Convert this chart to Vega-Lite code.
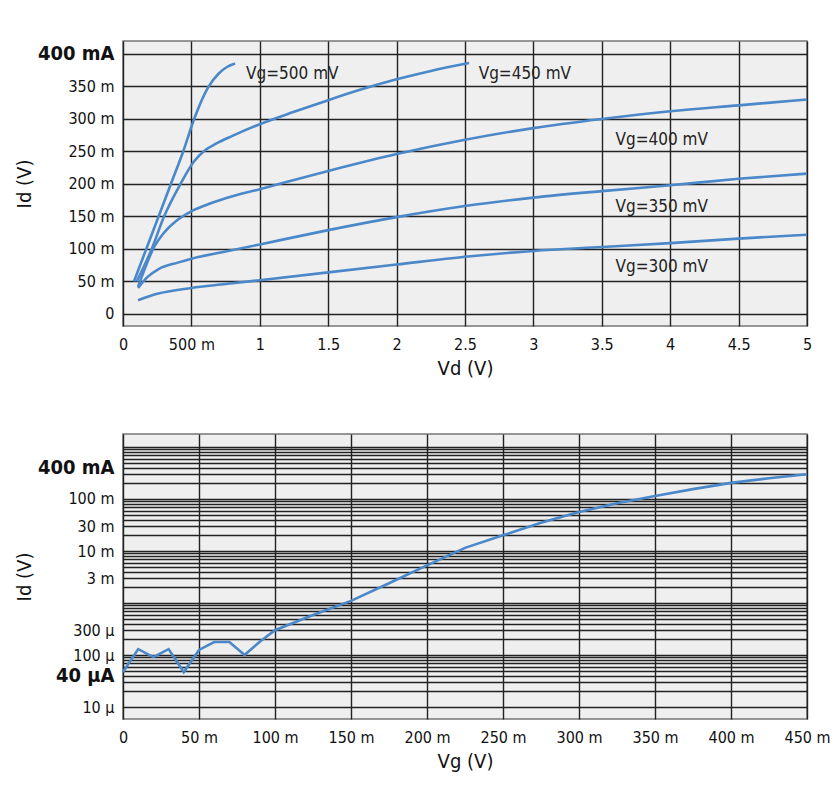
{
  "$schema": "https://vega.github.io/schema/vega-lite/v6.json",
  "background": "white",
  "padding": {"left": 13, "top": 40, "right": 20, "bottom": 10},
  "bounds": "flush",
  "spacing": 108,
  "config": {
    "font": "DejaVu Sans Condensed, Liberation Sans Narrow, Liberation Sans",
    "view": {"fill": "#efefef", "stroke": "#777", "strokeWidth": 1.5},
    "axis": {
      "grid": true, "gridColor": "#222", "gridWidth": 1.4, "gridOpacity": 1,
      "ticks": false, "domain": false,
      "labelFont": "DejaVu Sans Condensed, Liberation Sans Narrow, Liberation Sans",
      "labelFontSize": 16, "labelColor": "#111",
      "titleFont": "DejaVu Sans Condensed, Liberation Sans Narrow, Liberation Sans",
      "titleFontSize": 20, "titleFontWeight": "normal", "titleColor": "#111",
      "labelOverlap": false, "labelFlush": false
    }
  },
  "datasets": {
    "curves": [
      {"Vg": "500 mV", "Vd": 0.08, "Id": 50}, {"Vg": "500 mV", "Vd": 0.17, "Id": 100}, {"Vg": "500 mV", "Vd": 0.26, "Id": 150}, {"Vg": "500 mV", "Vd": 0.35, "Id": 200}, {"Vg": "500 mV", "Vd": 0.44, "Id": 250}, {"Vg": "500 mV", "Vd": 0.52, "Id": 300}, {"Vg": "500 mV", "Vd": 0.62, "Id": 348}, {"Vg": "500 mV", "Vd": 0.7, "Id": 370}, {"Vg": "500 mV", "Vd": 0.76, "Id": 380}, {"Vg": "500 mV", "Vd": 0.8, "Id": 384}, {"Vg": "500 mV", "Vd": 0.82, "Id": 385},
      {"Vg": "450 mV", "Vd": 0.1, "Id": 50}, {"Vg": "450 mV", "Vd": 0.21, "Id": 100}, {"Vg": "450 mV", "Vd": 0.3, "Id": 150}, {"Vg": "450 mV", "Vd": 0.42, "Id": 200}, {"Vg": "450 mV", "Vd": 0.52, "Id": 235}, {"Vg": "450 mV", "Vd": 0.6, "Id": 252}, {"Vg": "450 mV", "Vd": 0.68, "Id": 262}, {"Vg": "450 mV", "Vd": 0.8, "Id": 274}, {"Vg": "450 mV", "Vd": 1.0, "Id": 292}, {"Vg": "450 mV", "Vd": 1.25, "Id": 311}, {"Vg": "450 mV", "Vd": 1.5, "Id": 329}, {"Vg": "450 mV", "Vd": 1.75, "Id": 346}, {"Vg": "450 mV", "Vd": 2.0, "Id": 361}, {"Vg": "450 mV", "Vd": 2.25, "Id": 374}, {"Vg": "450 mV", "Vd": 2.53, "Id": 386},
      {"Vg": "400 mV", "Vd": 0.11, "Id": 42}, {"Vg": "400 mV", "Vd": 0.16, "Id": 70}, {"Vg": "400 mV", "Vd": 0.22, "Id": 100}, {"Vg": "400 mV", "Vd": 0.3, "Id": 125}, {"Vg": "400 mV", "Vd": 0.4, "Id": 145}, {"Vg": "400 mV", "Vd": 0.5, "Id": 158}, {"Vg": "400 mV", "Vd": 0.6, "Id": 167}, {"Vg": "400 mV", "Vd": 0.75, "Id": 178}, {"Vg": "400 mV", "Vd": 1.0, "Id": 192}, {"Vg": "400 mV", "Vd": 1.5, "Id": 220}, {"Vg": "400 mV", "Vd": 2.0, "Id": 246}, {"Vg": "400 mV", "Vd": 2.5, "Id": 268}, {"Vg": "400 mV", "Vd": 3.0, "Id": 286}, {"Vg": "400 mV", "Vd": 3.5, "Id": 300}, {"Vg": "400 mV", "Vd": 4.0, "Id": 312}, {"Vg": "400 mV", "Vd": 4.5, "Id": 321}, {"Vg": "400 mV", "Vd": 5.0, "Id": 330},
      {"Vg": "350 mV", "Vd": 0.11, "Id": 40}, {"Vg": "350 mV", "Vd": 0.18, "Id": 57}, {"Vg": "350 mV", "Vd": 0.26, "Id": 69}, {"Vg": "350 mV", "Vd": 0.4, "Id": 79}, {"Vg": "350 mV", "Vd": 0.5, "Id": 85}, {"Vg": "350 mV", "Vd": 0.75, "Id": 96}, {"Vg": "350 mV", "Vd": 1.0, "Id": 107}, {"Vg": "350 mV", "Vd": 1.5, "Id": 129}, {"Vg": "350 mV", "Vd": 2.0, "Id": 149}, {"Vg": "350 mV", "Vd": 2.5, "Id": 166}, {"Vg": "350 mV", "Vd": 3.0, "Id": 179}, {"Vg": "350 mV", "Vd": 3.5, "Id": 189}, {"Vg": "350 mV", "Vd": 4.0, "Id": 198}, {"Vg": "350 mV", "Vd": 4.5, "Id": 208}, {"Vg": "350 mV", "Vd": 5.0, "Id": 216},
      {"Vg": "300 mV", "Vd": 0.11, "Id": 21}, {"Vg": "300 mV", "Vd": 0.25, "Id": 31}, {"Vg": "300 mV", "Vd": 0.5, "Id": 40}, {"Vg": "300 mV", "Vd": 0.75, "Id": 46}, {"Vg": "300 mV", "Vd": 1.0, "Id": 52}, {"Vg": "300 mV", "Vd": 1.5, "Id": 64}, {"Vg": "300 mV", "Vd": 2.0, "Id": 76}, {"Vg": "300 mV", "Vd": 2.5, "Id": 88}, {"Vg": "300 mV", "Vd": 3.0, "Id": 97}, {"Vg": "300 mV", "Vd": 3.5, "Id": 103}, {"Vg": "300 mV", "Vd": 4.0, "Id": 109}, {"Vg": "300 mV", "Vd": 4.5, "Id": 116}, {"Vg": "300 mV", "Vd": 5.0, "Id": 122}
    ],
    "curveLabels": [
      {"Vd": 0.9, "Id": 369, "label": "Vg=500 mV"},
      {"Vd": 2.6, "Id": 369, "label": "Vg=450 mV"},
      {"Vd": 3.6, "Id": 268, "label": "Vg=400 mV"},
      {"Vd": 3.6, "Id": 165, "label": "Vg=350 mV"},
      {"Vd": 3.6, "Id": 73, "label": "Vg=300 mV"}
    ],
    "transfer": [
      {"Vg": 0.0, "Id": 0.000047}, {"Vg": 0.01, "Id": 0.00013}, {"Vg": 0.02, "Id": 0.000091}, {"Vg": 0.03, "Id": 0.00013}, {"Vg": 0.04, "Id": 0.000047}, {"Vg": 0.05, "Id": 0.000125}, {"Vg": 0.06, "Id": 0.000178}, {"Vg": 0.07, "Id": 0.000178}, {"Vg": 0.08, "Id": 0.0001}, {"Vg": 0.09, "Id": 0.00018}, {"Vg": 0.1, "Id": 0.0003}, {"Vg": 0.125, "Id": 0.00059}, {"Vg": 0.15, "Id": 0.0011}, {"Vg": 0.175, "Id": 0.0024}, {"Vg": 0.2, "Id": 0.0053}, {"Vg": 0.225, "Id": 0.0115}, {"Vg": 0.25, "Id": 0.02}, {"Vg": 0.275, "Id": 0.035}, {"Vg": 0.3, "Id": 0.056}, {"Vg": 0.325, "Id": 0.083}, {"Vg": 0.35, "Id": 0.114}, {"Vg": 0.375, "Id": 0.155}, {"Vg": 0.4, "Id": 0.204}, {"Vg": 0.425, "Id": 0.25}, {"Vg": 0.45, "Id": 0.3}
    ]
  },
  "vconcat": [
    {
      "width": 684,
      "height": 285,
      "encoding": {
        "x": {"field": "Vd", "type": "quantitative",
          "scale": {"domain": [0, 5], "nice": false, "zero": false},
          "axis": {"values": [0, 0.5, 1, 1.5, 2, 2.5, 3, 3.5, 4, 4.5, 5], "labelPadding": 10, "titlePadding": 6, "title": "Vd (V)", "labelOverlap": false, "labelFlush": false,
            "labelExpr": "datum.value == 0.5 ? '500 m' : format(datum.value, '~g')"}},
        "y": {"field": "Id", "type": "quantitative",
          "scale": {"domain": [-18.5, 420], "nice": false, "zero": false},
          "axis": {"values": [0, 50, 100, 150, 200, 250, 300, 350, 400], "labelPadding": 9, "title": "Id (V)", "titleX": -89, "labelOverlap": false, "labelFlush": false,
            "labelExpr": "datum.value == 0 ? '0' : datum.value == 400 ? '400 mA' : datum.value + ' m'",
            "labelFontWeight": {"condition": {"test": "datum.value == 400", "value": "bold"}, "value": "normal"},
            "labelFontSize": {"condition": {"test": "datum.value == 400", "value": 20}, "value": 16}}}
      },
      "layer": [
        {
          "data": {"name": "curves"},
          "mark": {"type": "line", "interpolate": "monotone", "color": "#4a88c9", "strokeWidth": 2.6},
          "encoding": {
            "detail": {"field": "Vg", "type": "nominal"}
          }
        },
        {
          "data": {"name": "curveLabels"},
          "mark": {"type": "text", "align": "left", "baseline": "middle", "fontSize": 17, "color": "#222", "font": "DejaVu Sans Condensed, Liberation Sans Narrow, Liberation Sans"},
          "encoding": {
            "text": {"field": "label", "type": "nominal"}
          }
        }
      ]
    },
    {
      "width": 684,
      "height": 285,
      "data": {"name": "transfer"},
      "mark": {"type": "line", "color": "#4a88c9", "strokeWidth": 2.6},
      "encoding": {
        "x": {"field": "Vg", "type": "quantitative",
          "scale": {"domain": [0, 0.45], "nice": false, "zero": false},
          "axis": {"values": [0, 0.05, 0.1, 0.15, 0.2, 0.25, 0.3, 0.35, 0.4, 0.45], "labelPadding": 10, "titlePadding": 6, "title": "Vg (V)", "labelOverlap": false, "labelFlush": false,
            "labelExpr": "datum.value == 0 ? '0' : format(round(datum.value * 1000), 'd') + ' m'"}},
        "y": {"field": "Id", "type": "quantitative",
          "scale": {"type": "log", "domain": [0.00000588, 1.778], "nice": false},
          "axis": {
            "values": [0.00001, 0.00002, 0.00003, 0.00004, 0.00005, 0.00006, 0.00007, 0.00008, 0.00009,
                       0.0001, 0.0002, 0.0003, 0.0004, 0.0005, 0.0006, 0.0007, 0.0008, 0.0009,
                       0.001, 0.002, 0.003, 0.004, 0.005, 0.006, 0.007, 0.008, 0.009,
                       0.01, 0.02, 0.03, 0.04, 0.05, 0.06, 0.07, 0.08, 0.09,
                       0.1, 0.2, 0.3, 0.4, 0.5, 0.6, 0.7, 0.8, 0.9, 1],
            "labelPadding": 9, "title": "Id (V)", "titleX": -89, "labelOverlap": false, "labelFlush": false,
            "labelExpr": "datum.value == 0.00001 ? '10 µ' : datum.value == 0.00004 ? '40 µA' : datum.value == 0.0001 ? '100 µ' : datum.value == 0.0003 ? '300 µ' : datum.value == 0.003 ? '3 m' : datum.value == 0.01 ? '10 m' : datum.value == 0.03 ? '30 m' : datum.value == 0.1 ? '100 m' : datum.value == 0.4 ? '400 mA' : ''",
            "labelFontWeight": {"condition": {"test": "datum.value == 0.4 || datum.value == 0.00004", "value": "bold"}, "value": "normal"},
            "labelFontSize": {"condition": {"test": "datum.value == 0.4 || datum.value == 0.00004", "value": 20}, "value": 16}
          }
        }
      }
    }
  ]
}
